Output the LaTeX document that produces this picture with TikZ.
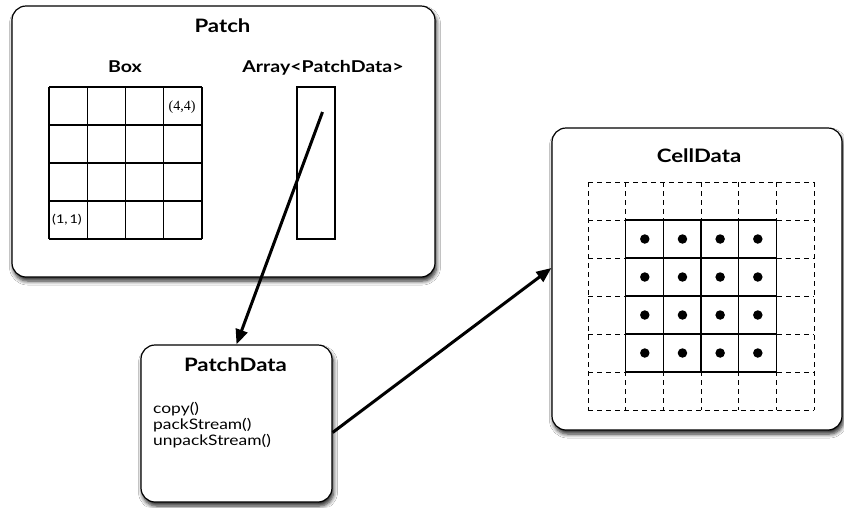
\documentclass[tikz,border=0pt]{standalone}
\usepackage{fontspec}
\setmainfont{Lato}[FakeStretch=1.2]
\newfontfamily\labelserif{Liberation Serif}
\usetikzlibrary{shadows.blur,arrows.meta,calc}

\begin{document}
\begin{tikzpicture}[x=1pt,y=-1pt,
  panel/.style={draw=black, line width=1.2pt, rounded corners=14pt, fill=white,
    blur shadow={shadow xshift=1.5pt, shadow yshift=-4pt, shadow blur steps=6,
                 shadow blur radius=4pt, shadow opacity=85},
    inner sep=0pt},
  bigtitle/.style={font=\bfseries\fontsize{18.5}{20}\selectfont, anchor=base, inner sep=0pt},
  subtitle/.style={font=\bfseries\fontsize{16.3}{18}\selectfont, anchor=base, inner sep=0pt},
  gridline/.style={line width=1.2pt},
  ghostline/.style={line width=0.9pt, dash pattern=on 5pt off 4pt},
  conn/.style={line width=3pt, -{Triangle[length=15pt,width=12pt]}},
  celldot/.style={fill=black, circle, inner sep=0pt, minimum size=9.5pt},
  cornerlabel/.style={font=\labelserif\fontsize{14}{15}\selectfont, inner sep=0pt}]

% page
\fill[white] (0,0) rectangle (844,507);
\useasboundingbox (0,0) rectangle (844,507);

% containers
\node[panel, minimum width=423pt, minimum height=271pt] (patch) at (223.5,141.5) {};
\node[panel, minimum width=191pt, minimum height=157pt] (pd) at (236.5,423.5) {};
\node[panel, minimum width=290pt, minimum height=302pt] (cd) at (697,279) {};

% titles
\node[bigtitle] (patchtitle) at (222.5,32.7) {Patch};
\node[subtitle] (boxtitle) at (125,72.5) {Box};
\node[subtitle] (arraytitle) at (323,72.5) {Array<PatchData>};
\node[bigtitle] (pdtitle) at (235.5,371) {PatchData};
\node[bigtitle] (cdtitle) at (699,162) {CellData};

% PatchData operations (base anchor sits on the last line)
\node[anchor=base west, align=left, inner sep=0pt,
      font=\fontsize{14.5}{16}\selectfont] (ops) at (153,445)
  {copy()\\packStream()\\unpackStream()};

% Box: 4x4 index grid
\foreach \i in {0,...,4} {
  \draw[gridline] ({49+\i*38.25},87) -- ({49+\i*38.25},239);
  \draw[gridline] (49,{87+\i*38}) -- (202,{87+\i*38});
}
\node[cornerlabel] (hi) at (182,107) {(4,4)};
\node[cornerlabel, font=\fontsize{12}{13}\selectfont] (lo) at (67,220) {(1,\,1)};

% Array<PatchData> storage column
\node[draw, line width=1.2pt, minimum width=38pt, minimum height=152pt, inner sep=0pt]
  (arr) at (316,163) {};
\coordinate (slot) at (322.5,112);

% CellData: ghost layer (dashed) around the 4x4 interior
\foreach \i in {0,...,6} {
  \draw[ghostline] ({588+\i*37.67},182) -- ({588+\i*37.67},410);
  \draw[ghostline] (588,{182+\i*38}) -- (814,{182+\i*38});
}
\foreach \i in {1,...,5} {
  \draw[gridline] ({588+\i*37.67},220) -- ({588+\i*37.67},372);
  \draw[gridline] (626,{182+\i*38}) -- (776,{182+\i*38});
}
\foreach \i in {0,...,3} {
  \foreach \j in {0,...,3} {
    \node[celldot] (dot\i\j) at ({644.8+\i*37.67},{239+\j*38}) {};
  }
}

% connectors
\draw[conn] (slot) -- (pd.north);
\draw[conn] ([yshift=-9pt]pd.east) -- ([yshift=11pt]cd.west);
\end{tikzpicture}
\end{document}
